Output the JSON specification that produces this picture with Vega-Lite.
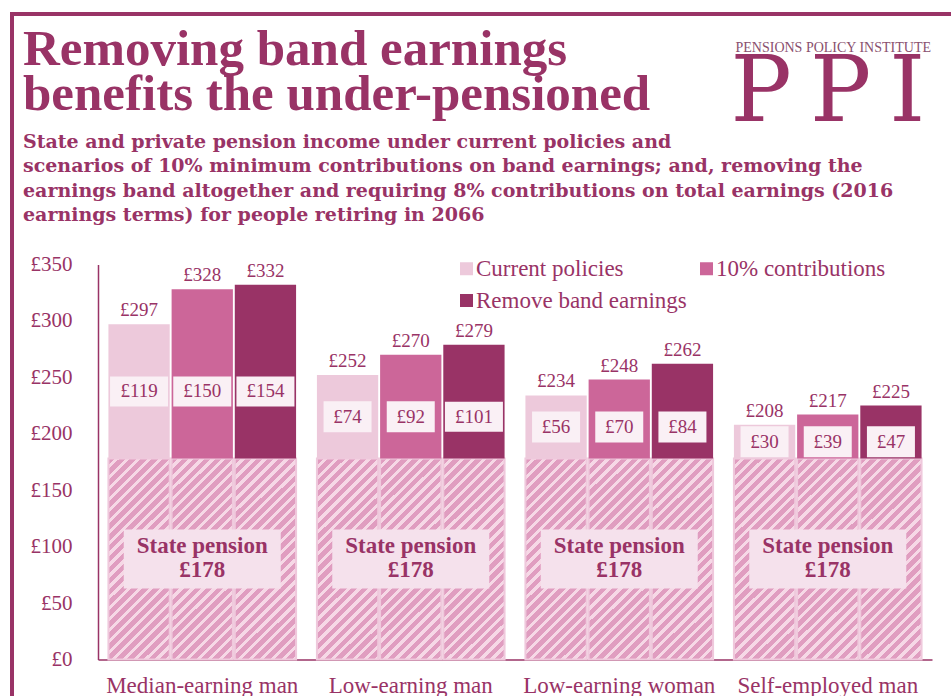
{
  "$schema": "https://vega.github.io/schema/vega-lite/v6.json",
  "width": 950,
  "height": 690,
  "autosize": {"type": "none"},
  "padding": {"left": 12, "top": 14, "right": 0, "bottom": 0},
  "background": "white",
  "title": {
    "text": ["Removing band earnings", "benefits the under-pensioned"],
    "subtitle": [
      "State and private pension income under current policies and",
      "scenarios of 10% minimum contributions on band earnings; and, removing the",
      "earnings band altogether and requiring 8% contributions on total earnings (2016",
      "earnings terms) for people retiring in 2066"
    ],
    "anchor": "start",
    "frame": "group",
    "offset": -212,
    "dx": 11,
    "font": "Liberation Serif",
    "fontSize": 51,
    "fontWeight": "bold",
    "color": "#993366",
    "lineHeight": 45,
    "subtitleFont": "DejaVu Serif",
    "subtitleFontSize": 19,
    "subtitleFontWeight": "bold",
    "subtitleColor": "#993366",
    "subtitleLineHeight": 24.3,
    "subtitlePadding": 12
  },
  "data": {
    "values": [
      {"group": "Median-earning man", "scenario": "Current policies", "state": 178, "private": 119, "total": 297},
      {"group": "Median-earning man", "scenario": "10% contributions", "state": 178, "private": 150, "total": 328},
      {"group": "Median-earning man", "scenario": "Remove band earnings", "state": 178, "private": 154, "total": 332},
      {"group": "Low-earning man", "scenario": "Current policies", "state": 178, "private": 74, "total": 252},
      {"group": "Low-earning man", "scenario": "10% contributions", "state": 178, "private": 92, "total": 270},
      {"group": "Low-earning man", "scenario": "Remove band earnings", "state": 178, "private": 101, "total": 279},
      {"group": "Low-earning woman", "scenario": "Current policies", "state": 178, "private": 56, "total": 234},
      {"group": "Low-earning woman", "scenario": "10% contributions", "state": 178, "private": 70, "total": 248},
      {"group": "Low-earning woman", "scenario": "Remove band earnings", "state": 178, "private": 84, "total": 262},
      {"group": "Self-employed man", "scenario": "Current policies", "state": 178, "private": 30, "total": 208},
      {"group": "Self-employed man", "scenario": "10% contributions", "state": 178, "private": 39, "total": 217},
      {"group": "Self-employed man", "scenario": "Remove band earnings", "state": 178, "private": 47, "total": 225}
    ]
  },
  "transform": [
    {"joinaggregate": [{"op": "min", "field": "private", "as": "curPrivate"}], "groupby": ["group"]},
    {"calculate": "datum.state + datum.curPrivate / 2", "as": "boxMid"},
    {"calculate": "datum.state / 2", "as": "stateMid"}
  ],
  "encoding": {
    "x": {
      "field": "group",
      "type": "nominal",
      "sort": ["Median-earning man", "Low-earning man", "Low-earning woman", "Self-employed man"],
      "scale": {"range": [86, 920], "paddingInner": 0.1, "paddingOuter": 0.05},
      "axis": {
        "orient": "bottom",
        "offset": -44.5,
        "domainColor": "#993366",
        "domainWidth": 1.5,
        "ticks": false,
        "labelAngle": 0,
        "labelFont": "Liberation Serif",
        "labelFontSize": 23,
        "labelColor": "#993366",
        "labelPadding": 15,
        "labelLimit": 300,
        "title": "P\u2009P\u2009I",
        "titleFont": "DejaVu Serif",
        "titleFontSize": 91,
        "titleFontWeight": "normal",
        "titleColor": "#993366",
        "titleAlign": "left",
        "titleBaseline": "alphabetic",
        "titleAnchor": "start",
        "titleX": 718,
        "titleY": -539
      }
    },
    "y": {
      "type": "quantitative",
      "scale": {"domain": [0, 350], "range": [645.5, 250.5], "nice": false},
      "axis": {
        "orient": "left",
        "offset": -86,
        "values": [0, 50, 100, 150, 200, 250, 300, 350],
        "format": "$d",
        "domainColor": "#993366",
        "domainWidth": 1.5,
        "ticks": false,
        "grid": false,
        "labelFont": "Liberation Serif",
        "labelFontSize": 21,
        "labelColor": "#993366",
        "labelPadding": 26,
        "title": "PENSIONS POLICY INSTITUTE",
        "titleAngle": 0,
        "titleFont": "Liberation Serif",
        "titleFontSize": 14,
        "titleFontWeight": "normal",
        "titleColor": "#8a4f6e",
        "titleAlign": "left",
        "titleBaseline": "alphabetic",
        "titleAnchor": "start",
        "titleX": 637,
        "titleY": 37
      }
    }
  },
  "layer": [
    {
      "mark": {
        "type": "bar",
        "stroke": "#efc9dc",
        "strokeWidth": 2,
        "fill": {
          "gradient": "linear",
          "x1": 0, "y1": 0, "x2": 0.363, "y2": 1.194,
          "stops": [
            {"offset": 0, "color": "#e09dc0"}, {"offset": 0.025, "color": "#e09dc0"}, {"offset": 0.025, "color": "#f6d8e6"}, {"offset": 0.0417, "color": "#f6d8e6"},
            {"offset": 0.0417, "color": "#e09dc0"}, {"offset": 0.0667, "color": "#e09dc0"}, {"offset": 0.0667, "color": "#f6d8e6"}, {"offset": 0.0833, "color": "#f6d8e6"},
            {"offset": 0.0833, "color": "#e09dc0"}, {"offset": 0.1083, "color": "#e09dc0"}, {"offset": 0.1083, "color": "#f6d8e6"}, {"offset": 0.125, "color": "#f6d8e6"},
            {"offset": 0.125, "color": "#e09dc0"}, {"offset": 0.15, "color": "#e09dc0"}, {"offset": 0.15, "color": "#f6d8e6"}, {"offset": 0.1667, "color": "#f6d8e6"},
            {"offset": 0.1667, "color": "#e09dc0"}, {"offset": 0.1917, "color": "#e09dc0"}, {"offset": 0.1917, "color": "#f6d8e6"}, {"offset": 0.2083, "color": "#f6d8e6"},
            {"offset": 0.2083, "color": "#e09dc0"}, {"offset": 0.2333, "color": "#e09dc0"}, {"offset": 0.2333, "color": "#f6d8e6"}, {"offset": 0.25, "color": "#f6d8e6"},
            {"offset": 0.25, "color": "#e09dc0"}, {"offset": 0.275, "color": "#e09dc0"}, {"offset": 0.275, "color": "#f6d8e6"}, {"offset": 0.2917, "color": "#f6d8e6"},
            {"offset": 0.2917, "color": "#e09dc0"}, {"offset": 0.3167, "color": "#e09dc0"}, {"offset": 0.3167, "color": "#f6d8e6"}, {"offset": 0.3333, "color": "#f6d8e6"},
            {"offset": 0.3333, "color": "#e09dc0"}, {"offset": 0.3583, "color": "#e09dc0"}, {"offset": 0.3583, "color": "#f6d8e6"}, {"offset": 0.375, "color": "#f6d8e6"},
            {"offset": 0.375, "color": "#e09dc0"}, {"offset": 0.4, "color": "#e09dc0"}, {"offset": 0.4, "color": "#f6d8e6"}, {"offset": 0.4167, "color": "#f6d8e6"},
            {"offset": 0.4167, "color": "#e09dc0"}, {"offset": 0.4417, "color": "#e09dc0"}, {"offset": 0.4417, "color": "#f6d8e6"}, {"offset": 0.4583, "color": "#f6d8e6"},
            {"offset": 0.4583, "color": "#e09dc0"}, {"offset": 0.4833, "color": "#e09dc0"}, {"offset": 0.4833, "color": "#f6d8e6"}, {"offset": 0.5, "color": "#f6d8e6"},
            {"offset": 0.5, "color": "#e09dc0"}, {"offset": 0.525, "color": "#e09dc0"}, {"offset": 0.525, "color": "#f6d8e6"}, {"offset": 0.5417, "color": "#f6d8e6"},
            {"offset": 0.5417, "color": "#e09dc0"}, {"offset": 0.5667, "color": "#e09dc0"}, {"offset": 0.5667, "color": "#f6d8e6"}, {"offset": 0.5833, "color": "#f6d8e6"},
            {"offset": 0.5833, "color": "#e09dc0"}, {"offset": 0.6083, "color": "#e09dc0"}, {"offset": 0.6083, "color": "#f6d8e6"}, {"offset": 0.625, "color": "#f6d8e6"},
            {"offset": 0.625, "color": "#e09dc0"}, {"offset": 0.65, "color": "#e09dc0"}, {"offset": 0.65, "color": "#f6d8e6"}, {"offset": 0.6667, "color": "#f6d8e6"},
            {"offset": 0.6667, "color": "#e09dc0"}, {"offset": 0.6917, "color": "#e09dc0"}, {"offset": 0.6917, "color": "#f6d8e6"}, {"offset": 0.7083, "color": "#f6d8e6"},
            {"offset": 0.7083, "color": "#e09dc0"}, {"offset": 0.7333, "color": "#e09dc0"}, {"offset": 0.7333, "color": "#f6d8e6"}, {"offset": 0.75, "color": "#f6d8e6"},
            {"offset": 0.75, "color": "#e09dc0"}, {"offset": 0.775, "color": "#e09dc0"}, {"offset": 0.775, "color": "#f6d8e6"}, {"offset": 0.7917, "color": "#f6d8e6"},
            {"offset": 0.7917, "color": "#e09dc0"}, {"offset": 0.8167, "color": "#e09dc0"}, {"offset": 0.8167, "color": "#f6d8e6"}, {"offset": 0.8333, "color": "#f6d8e6"},
            {"offset": 0.8333, "color": "#e09dc0"}, {"offset": 0.8583, "color": "#e09dc0"}, {"offset": 0.8583, "color": "#f6d8e6"}, {"offset": 0.875, "color": "#f6d8e6"},
            {"offset": 0.875, "color": "#e09dc0"}, {"offset": 0.9, "color": "#e09dc0"}, {"offset": 0.9, "color": "#f6d8e6"}, {"offset": 0.9167, "color": "#f6d8e6"},
            {"offset": 0.9167, "color": "#e09dc0"}, {"offset": 0.9417, "color": "#e09dc0"}, {"offset": 0.9417, "color": "#f6d8e6"}, {"offset": 0.9583, "color": "#f6d8e6"},
            {"offset": 0.9583, "color": "#e09dc0"}, {"offset": 0.9833, "color": "#e09dc0"}, {"offset": 0.9833, "color": "#f6d8e6"}, {"offset": 1, "color": "#f6d8e6"}
          ]
        }
      },
      "encoding": {
        "xOffset": {"field": "scenario", "type": "nominal", "sort": ["Current policies", "10% contributions", "Remove band earnings"], "scale": {"paddingInner": 0.03}},
        "y": {"field": "state", "type": "quantitative", "stack": false}
      }
    },
    {
      "mark": {"type": "bar"},
      "encoding": {
        "xOffset": {"field": "scenario", "type": "nominal", "sort": ["Current policies", "10% contributions", "Remove band earnings"]},
        "y": {"field": "total", "type": "quantitative"},
        "y2": {"field": "state"},
        "color": {
          "field": "scenario",
          "type": "nominal",
          "sort": ["Current policies", "10% contributions", "Remove band earnings"],
          "scale": {"domain": ["Current policies", "10% contributions", "Remove band earnings"], "range": ["#edc9db", "#cc6699", "#993366"]},
          "legend": {
            "orient": "none",
            "direction": "horizontal",
            "legendX": 443,
            "legendY": 243,
            "columns": 2,
            "columnPadding": 8,
            "rowPadding": 8,
            "title": null,
            "symbolType": "square",
            "symbolSize": 169,
            "symbolStrokeWidth": 0,
            "symbolOpacity": 1,
            "labelFont": "Liberation Serif",
            "labelFontSize": 23,
            "labelColor": "#993366",
            "labelLimit": 400,
            "labelOffset": -2,
            "padding": 0
          }
        }
      }
    },
    {
      "mark": {"type": "text", "dy": -8, "baseline": "alphabetic", "font": "Liberation Serif", "fontSize": 19, "color": "#993366"},
      "encoding": {
        "xOffset": {"field": "scenario", "type": "nominal", "sort": ["Current policies", "10% contributions", "Remove band earnings"]},
        "y": {"field": "total", "type": "quantitative"},
        "text": {"field": "total", "type": "quantitative", "format": "$d"}
      }
    },
    {
      "transform": [{"filter": "datum.private >= 100"}],
      "mark": {"type": "point", "filled": true, "opacity": 1, "color": "#faf0f5", "shape": "M-1,-0.517H1V0.517H-1Z", "size": 3364},
      "encoding": {
        "xOffset": {"field": "scenario", "type": "nominal", "sort": ["Current policies", "10% contributions", "Remove band earnings"]},
        "y": {"field": "boxMid", "type": "quantitative"}
      }
    },
    {
      "transform": [{"filter": "datum.private < 100"}],
      "mark": {"type": "point", "filled": true, "opacity": 1, "color": "#faf0f5", "shape": "M-1,-0.646H1V0.646H-1Z", "size": 2304},
      "encoding": {
        "xOffset": {"field": "scenario", "type": "nominal", "sort": ["Current policies", "10% contributions", "Remove band earnings"]},
        "y": {"field": "boxMid", "type": "quantitative"}
      }
    },
    {
      "mark": {"type": "text", "baseline": "middle", "font": "Liberation Serif", "fontSize": 19, "color": "#993366"},
      "encoding": {
        "xOffset": {"field": "scenario", "type": "nominal", "sort": ["Current policies", "10% contributions", "Remove band earnings"]},
        "y": {"field": "boxMid", "type": "quantitative"},
        "text": {"field": "private", "type": "quantitative", "format": "$d"}
      }
    },
    {
      "transform": [{"filter": "datum.scenario == 'Current policies'"}],
      "mark": {"type": "point", "filled": true, "opacity": 1, "color": "#f5e1ec", "shape": "M-1,-0.376H1V0.376H-1Z", "size": 24649},
      "encoding": {
        "y": {"field": "stateMid", "type": "quantitative"}
      }
    },
    {
      "transform": [{"filter": "datum.scenario == 'Current policies'"}],
      "mark": {"type": "text", "baseline": "alphabetic", "dy": -6, "font": "Liberation Serif", "fontSize": 23, "fontWeight": "bold", "color": "#993366"},
      "encoding": {
        "y": {"field": "stateMid", "type": "quantitative"},
        "text": {"value": "State pension"}
      }
    },
    {
      "transform": [{"filter": "datum.scenario == 'Current policies'"}],
      "mark": {"type": "text", "baseline": "alphabetic", "dy": 18, "font": "Liberation Serif", "fontSize": 23, "fontWeight": "bold", "color": "#993366"},
      "encoding": {
        "y": {"field": "stateMid", "type": "quantitative"},
        "text": {"field": "state", "type": "quantitative", "format": "$d"}
      }
    }
  ],
  "config": {
    "font": "Liberation Serif",
    "locale": {
      "number": {"decimal": ".", "thousands": ",", "grouping": [3], "currency": ["£", ""]}
    },
    "view": {"stroke": "#993366", "strokeWidth": 4}
  }
}
